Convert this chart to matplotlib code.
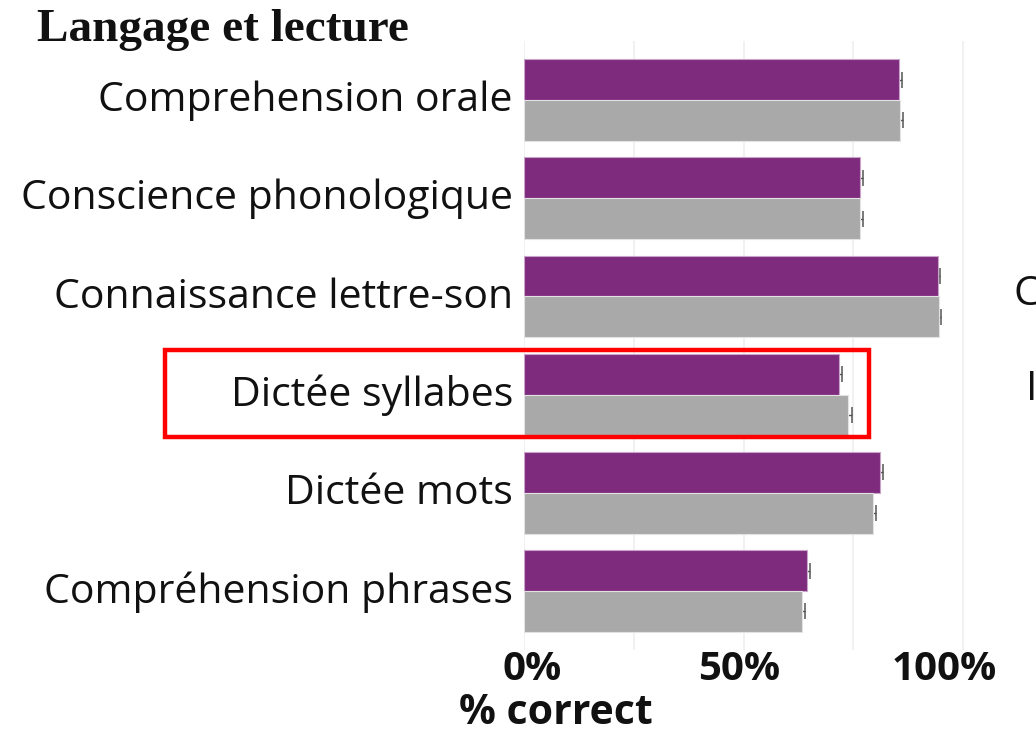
import matplotlib
matplotlib.use("Agg")
import matplotlib.pyplot as plt
import matplotlib.transforms as mtransforms
from matplotlib.patches import Rectangle
import numpy as np

# Language & reading subtests: mean % correct for two groups, with standard errors
categories = [
    "Comprehension orale",
    "Conscience phonologique",
    "Connaissance lettre-son",
    "Dictée syllabes",
    "Dictée mots",
    "Compréhension phrases",
]
group_a = [85.5, 76.6, 94.3, 71.8, 81.1, 64.5]   # purple
group_b = [85.7, 76.6, 94.5, 73.9, 79.6, 63.4]   # grey
err_a = [0.6, 0.6, 0.5, 0.7, 0.6, 0.7]
err_b = [0.6, 0.6, 0.5, 0.7, 0.6, 0.7]
tick_values = [0, 50, 100]
tick_labels = ["0%", "50%", "100%"]
highlight = "Dictée syllabes"

PURPLE = "#7E2A7D"
GREY = "#A9A9A9"
LABEL_FONT = ["Open Sans", "DejaVu Sans"]

W, H = 1036, 732
fig = plt.figure(figsize=(W / 100, H / 100), dpi=100)
ax = fig.add_axes([524 / W, 1 - 650 / H, (985 - 524) / W, (650 - 41) / H])

y = np.arange(len(categories))
bh = 0.415
# error bars sit underneath the bars, so only the outer half shows
ax.errorbar(group_a, y - bh / 2, xerr=err_a, fmt="none", ecolor="#555555",
            elinewidth=1.0, capsize=6, capthick=1.1, zorder=1)
ax.errorbar(group_b, y + bh / 2, xerr=err_b, fmt="none", ecolor="#555555",
            elinewidth=1.0, capsize=6, capthick=1.1, zorder=1)
ax.barh(y - bh / 2, group_a, height=bh, color=PURPLE, edgecolor="#C9A3C8",
        linewidth=0.8, zorder=2)
ax.barh(y + bh / 2, group_b, height=bh, color=GREY, edgecolor="#E2E2E2",
        linewidth=0.8, zorder=2)

ax.set_xlim(0, 105)
ax.set_ylim(len(categories) - 0.4, -0.6)

# light vertical grid, major and minor
for gx in [0, 25, 50, 75, 100]:
    ax.axvline(gx, color="#EFEFEF", lw=1.2, zorder=0)

for s in ax.spines.values():
    s.set_visible(False)
ax.tick_params(length=0)

ax.set_yticks(y)
ax.set_yticklabels(categories, fontsize=29.5, family=LABEL_FONT, color="#111111")
ax.tick_params(axis="y", pad=8)
for lab in ax.get_yticklabels():
    lab.set_transform(lab.get_transform() +
                      mtransforms.ScaledTranslation(0, 4 / 100, fig.dpi_scale_trans))

ax.set_xticks(tick_values)
ax.set_xticklabels(tick_labels, fontsize=29, fontweight="bold",
                   family=LABEL_FONT, color="#111111")
ax.tick_params(axis="x", pad=0)
for lab, dx in zip(ax.get_xticklabels(), [8, -4, -19]):
    lab.set_transform(lab.get_transform() +
                      mtransforms.ScaledTranslation(dx / 100, 0, fig.dpi_scale_trans))

fig.text(556 / W, 1 - 713 / H, "% correct", ha="center", va="center",
         fontsize=29.5, fontweight="bold", family=LABEL_FONT, color="#111111")

fig.text(37 / W, 1 - 30 / H, "Langage et lecture", ha="left", va="center",
         fontsize=34, fontweight="bold", family=["Liberation Serif"], color="#111111")

# neighbouring panel labels reaching in from the right border
fig.text(1014 / W, 1 - 295 / H, "C", ha="left", va="center",
         fontsize=29.5, family=LABEL_FONT, color="#111111")
fig.text(1026 / W, 1 - 390 / H, "I", ha="left", va="center",
         fontsize=29.5, family=LABEL_FONT, color="#111111")

# red frame around the highlighted subtest
fig.patches.append(Rectangle((165 / W, 1 - 437 / H), (869 - 165) / W, (437 - 350) / H,
                             transform=fig.transFigure, fill=False,
                             edgecolor="#FF0000", linewidth=3.2, zorder=10))

fig.savefig("out.png", dpi=100, facecolor="white")
